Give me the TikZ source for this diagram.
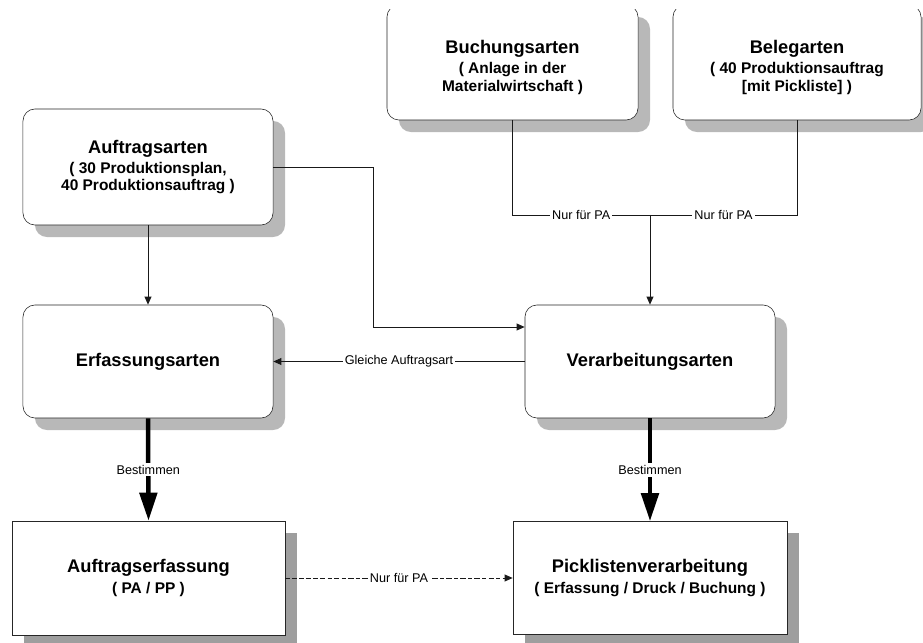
\documentclass[tikz,border=0pt]{standalone}
\usepackage{fontspec}
\setmainfont{Liberation Sans}
\usetikzlibrary{arrows.meta,calc,shadows}
\begin{document}
\begin{tikzpicture}[x=0.025cm,y=-0.025cm,font=\fontsize{11}{12.5}\selectfont\bfseries,
rbox/.style={draw=black!85,fill=white,rounded corners=0.3cm,align=center,inner sep=0pt,drop shadow={shadow xshift=0.3cm,shadow yshift=-0.3cm,opacity=1,fill=black!28}},
sbox/.style={draw=black!85,fill=white,align=center,inner sep=0pt,drop shadow={shadow xshift=0.3cm,shadow yshift=-0.3cm,opacity=1,fill=black!38}},
ln/.style={draw=black!90,line width=0.7pt},
arr/.style={ln,-{Triangle[length=2mm,width=1.7mm]}},
thk/.style={line width=3.2pt,-{Triangle[length=7mm,width=4.3mm]}},
lbl/.style={fill=white,inner sep=1.5pt,font=\fontsize{9}{10}\selectfont\mdseries},
ttl/.style={font=\fontsize{13}{15}\selectfont\bfseries}]
\useasboundingbox (0,0) rectangle (923,643);
\clip (0,10) rectangle (923,643);
\node[rbox,text height=43pt,minimum width=6.275cm,minimum height=2.875cm] (buch) at (512.5,62.5) {{\fontsize{13}{15}\selectfont Buchungsarten}\\[2pt]( Anlage in der\\Materialwirtschaft )};
\node[rbox,text height=43pt,minimum width=6.2cm,minimum height=2.875cm] (beleg) at (797,62.5) {{\fontsize{13}{15}\selectfont Belegarten}\\[2pt]( 40 Produktionsauftrag\\{}[mit Pickliste] )};
\node[rbox,minimum width=6.25cm,minimum height=2.9cm] (auftr) at (148,167) {{\fontsize{13}{15}\selectfont Auftragsarten}\\[2pt]( 30 Produktionsplan,\\40 Produktionsauftrag )};
\node[rbox,ttl,minimum width=6.25cm,minimum height=2.825cm] (erf) at (148,361.5) {Erfassungsarten};
\node[rbox,ttl,minimum width=6.25cm,minimum height=2.825cm] (verarb) at (650,361.5) {Verarbeitungsarten};
\node[sbox,minimum width=6.825cm,minimum height=2.85cm] (aerf) at (148.5,578) {{\fontsize{13}{15}\selectfont Auftragserfassung}\\[2pt]( PA / PP )};
\node[sbox,minimum width=6.85cm,minimum height=2.825cm] (pick) at (650,578) {{\fontsize{13}{15}\selectfont Picklistenverarbeitung}\\[2pt]( Erfassung / Druck / Buchung )};
\coordinate (jn) at (650,215);
\draw[ln] (buch.south) |- node[lbl,pos=.75]{Nur für PA} (jn);
\draw[ln] (beleg.south) |- node[lbl,pos=.75]{Nur für PA} (jn);
\draw[arr] (jn)--(verarb.north);
\draw[arr] (auftr.south)--(erf.north);
\draw[arr] (auftr.east)--++(100,0)|-($(verarb.west)+(0,-34.5)$);
\draw[arr] (verarb.west)--node[lbl]{Gleiche Auftragsart}(erf.east);
\draw[thk] (erf.south)--node[lbl]{Bestimmen}(aerf.north);
\draw[thk] (verarb.south)--node[lbl]{Bestimmen}(pick.north);
\draw[arr,dash pattern=on 3pt off 1.5pt on 4pt off 1.5pt] (aerf.east)--node[lbl]{Nur für PA}(pick.west);
\end{tikzpicture}
\end{document}
